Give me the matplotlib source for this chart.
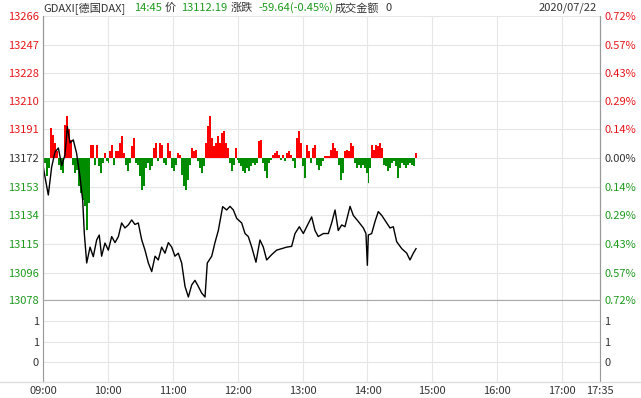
import matplotlib
matplotlib.use("Agg")
import matplotlib.pyplot as plt
import numpy as np
from matplotlib.lines import Line2D

plt.rcParams['font.family'] = ['Noto Sans CJK SC', 'DejaVu Sans']

W, H = 641, 398
RED = '#e8161a'
GREEN = '#1e9a1e'
GREY = '#333333'
BAR_RED = '#ff0000'
BAR_GREEN = '#008c00'

prev_close = 13172
price_ticks = [13266, 13247, 13228, 13210, 13191, 13172, 13153, 13134, 13115, 13096, 13078]
pct_labels = ['0.72%', '0.57%', '0.43%', '0.29%', '0.14%', '0.00%',
              '0.14%', '0.29%', '0.43%', '0.57%', '0.72%']
vol_labels = ['0', '1', '1']
time_labels = ['09:00', '10:00', '11:00', '12:00', '13:00', '14:00',
               '15:00', '16:00', '17:00', '17:35']
time_mins = [0, 60, 120, 180, 240, 300, 360, 420, 480, 515]

# minutes after 09:00, index price
line_t = [0.3, 1.8, 4.9, 8, 11.1, 14.2, 17.3, 20.3, 22.5, 25, 28, 31.1, 34.2, 36.7,
          38.2, 40.4, 43.5, 46.5, 49.6, 52, 54.2, 57.3, 60.4, 63.5, 66.6, 69.7,
          72.7, 75.8, 78.9, 82, 85, 88.1, 91.2, 94.3, 97.4, 100.5, 103.6, 106.6,
          109.7, 112.8, 115.9, 119, 122, 125.1, 128.2, 131.3, 134.4, 137.5, 140.5,
          143.6, 146.7, 149.8, 151.9, 156, 159, 162.1, 166.1, 169.8, 172.9, 176,
          179.1, 183.7, 186.8, 189.8, 193, 196.9, 200.6, 203.7, 206.8, 211.4, 216,
          220.7, 225.3, 229.9, 233, 237, 240.7, 243.8, 248.4, 251.5, 254.5, 259.2,
          263.8, 266.9, 270, 273, 276.2, 279.2, 283.9, 286.9, 291.5, 296.2, 298.6,
          299.9, 300.8, 303.9, 307, 310, 313.2, 317.8, 320.8, 323.9, 327, 331.7,
          336.3, 339.3, 342.4, 344.9]
line_p = [13166, 13159.6, 13147.5, 13166, 13176, 13178.6, 13167, 13174, 13192.7,
          13182, 13184, 13175, 13159.6, 13144, 13122, 13102.5, 13113, 13106.7,
          13117.7, 13121, 13107, 13115.7, 13111, 13120, 13116, 13120, 13129,
          13125.7, 13127.7, 13131, 13128, 13129, 13118, 13111, 13102.5, 13096.8,
          13107, 13104.5, 13113, 13109, 13116, 13113, 13107, 13109, 13102.5, 13087,
          13080, 13088, 13091, 13087, 13082.6, 13080, 13102.5, 13107, 13116, 13124,
          13139.8, 13137.6, 13140, 13137.6, 13132, 13129, 13122, 13120, 13113,
          13103, 13117.7, 13113, 13104.5, 13108, 13111, 13112, 13113, 13113.5,
          13122, 13126.5, 13122, 13126.5, 13133, 13124, 13120, 13122, 13122, 13129,
          13137.6, 13124, 13127.7, 13126.5, 13140, 13134, 13130, 13125.7, 13122,
          13101, 13121, 13122, 13130, 13136.5, 13134, 13129, 13125.7, 13126.5,
          13116.6, 13112, 13109, 13104.5, 13109, 13112]

# change bars around previous close, in points
bars = [-5.5, -3.3, -12, -6.6, 20, 15.5, 10, 4.4, -4.4, -7.7, -10, 22, 27.6, 19, 12,
        -4.4, -10, -7.7, -18.8, -23, -27.6, -32, -47.7, -30, 8.8, 8.8, -4.4, 8.8,
        -5.5, -10, -3.3, 3.3, -2.2, -3.3, 4.4, 8.8, -4.4, 4.4, 4.4, 10, 14.3, 3.3,
        -4.4, -8.8, -3.3, 7.7, 13, -3.3, -4.4, -12, -21,
        -18.8, -6.6, -3.3, -7.7, -5.5, 6.6, 10, -2.2, 10, 8.8, -3.3, -4.4, 10, 4.4,
        -6.6, -8.8, -4.4, 3.3, 2.2, -11, -18.8, -21, -14.3, -4.4, 6.6, 4.4, 5.5,
        -2.2, -6.6, -10, -5.5, 10, 21, 27.6, 13, 7.7, 10, 14.3, 10, 16.5, 17.6, 10,
        6.6, -3.3, -8.8, -4.4, 6.6, -1, -3.3, -5.5,
        -8.8, -10, -6.6, -8.8, -5.5, -3.3, -4.4, -3.3, 11, 12, -3.3, -8.8, -13,
        -3.3, -1, 2.2, 3.3, 4.4, 2.2, -1, 2.2, -2.2, 3.3, 4.4, 2.2, -2.2, -6.6, 13,
        17.6, 10, -5.5, -13, 8.8, 4.4, -3.3, 6.6, 8.8, -4.4, -7.7, -5.5, -2.2, 1, 1,
        1, 5.5, 10, 6.6, 4.4, -4.4, -14.3, -10,
        4.4, 5.5, 4.4, 10, 7.7, -3.3, -6.6, -4.4, -6.6, -4.4, -6.6, -10, -16.5,
        -6.6, 8.8, 5.5, 8.8, 7.7, 10, 6.6, -4.4, -5.5, -8.8, -6.6, -3.3, -2.2, -5.5,
        -13, -6.6, -3.3, -4.4, -6.6, -4.4, -3.3, -4.4, -5.5, 3.3]

fig = plt.figure(figsize=(W / 100, H / 100), dpi=100)

def fx(px):
    return px / W

def fy(py):
    return 1 - py / H

left, right = 43, 600
ax = fig.add_axes([fx(left), fy(300), fx(right - left), (300 - 16) / H])
axv = fig.add_axes([fx(left), fy(382), fx(right - left), (382 - 301) / H])

# price pane
bt = np.linspace(0, 345, len(bars))
step = bt[1] - bt[0]
bars = np.array(bars)
cols = [BAR_RED if b > 0 else BAR_GREEN for b in bars]
ax.bar(bt, bars, bottom=prev_close, width=step, color=cols, linewidth=0,
       antialiased=False, zorder=2)
ax.plot(line_t, line_p, color='black', lw=1, zorder=3)

ax.set_xlim(0, 515)
ax.set_ylim(price_ticks[-1], price_ticks[0])
ax.set_yticks(price_ticks)
ax.set_yticklabels([str(p) for p in price_ticks])
for lab, p in zip(ax.get_yticklabels(), price_ticks):
    lab.set_color(RED if p > prev_close else (GREEN if p < prev_close else GREY))
ax.tick_params(axis='y', length=0, labelsize=8, pad=3)
ax.set_xticks(time_mins[:-1])
ax.tick_params(axis='x', length=0, labelbottom=False)
ax.grid(True, color='#e6e6e6', lw=0.8, zorder=0)

ax2 = ax.twinx()
ax2.set_ylim(ax.get_ylim())
ax2.set_yticks(price_ticks)
ax2.set_yticklabels(pct_labels)
for lab, p in zip(ax2.get_yticklabels(), price_ticks):
    lab.set_color(RED if p > prev_close else (GREEN if p < prev_close else GREY))
ax2.tick_params(axis='y', length=0, labelsize=8, pad=3)

for a in (ax, ax2):
    a.spines['top'].set_visible(False)
    a.spines['left'].set_color('#999999')
    a.spines['right'].set_color('#999999')
    a.spines['bottom'].set_color('#aaaaaa')

# volume pane
axv.set_xlim(0, 515)
axv.set_ylim(-1, 3)
axv.set_yticks([0, 1, 2])
axv.set_yticklabels(vol_labels)
axv.tick_params(axis='y', length=0, labelsize=8, pad=3, colors=GREY,
                labelright=True, right=False)
axv.set_xticks(time_mins)
axv.set_xticklabels(time_labels)
axv.tick_params(axis='x', length=0, labelsize=8, pad=3, colors=GREY)
axv.set_xticks([0, 515], minor=True)
axv.tick_params(axis='x', which='minor', length=6, color='#999999', width=1)
axv.grid(True, color='#e6e6e6', lw=0.8)
for s in ('top', 'bottom'):
    axv.spines[s].set_visible(False)
axv.spines['left'].set_color('#999999')
axv.spines['right'].set_color('#999999')

fig.add_artist(Line2D([0, 1], [fy(382), fy(382)], color='#dddddd', lw=1))

# header
hy = fy(8)
parts = [(43, 'GDAXI[德国DAX]', GREY), (134, '14:45', GREEN), (165, '价', GREY),
         (181, '13112.19', GREEN), (231, '涨跌', GREY), (258, '-59.64(-0.45%)', GREEN),
         (335, '成交金额', GREY), (385, '0', GREY)]
for x, s, c in parts:
    fig.text(fx(x), hy, s, color=c, fontsize=8, va='center', ha='left')
fig.text(fx(597), hy, '2020/07/22', color=GREY, fontsize=8, va='center', ha='right')

fig.savefig('out.png', dpi=100)
